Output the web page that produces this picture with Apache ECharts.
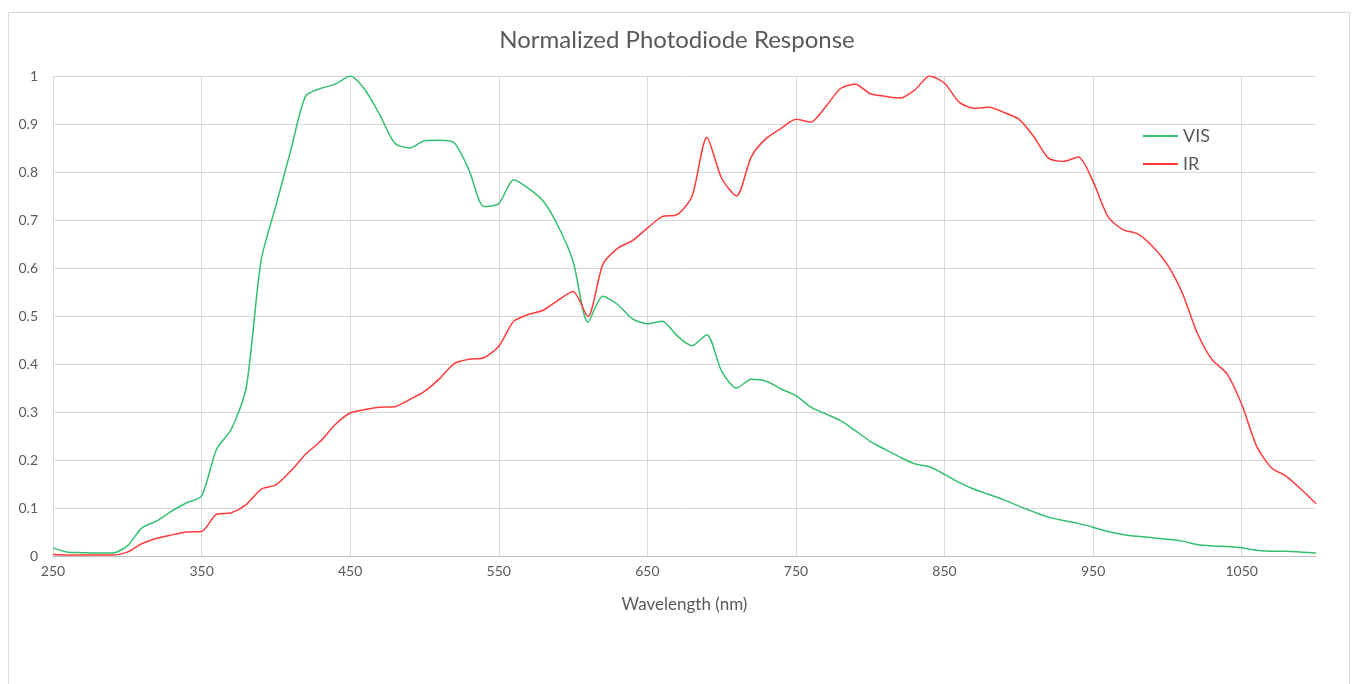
<!DOCTYPE html>
<html>
<head>
<meta charset="utf-8">
<script src="https://cdn.jsdelivr.net/npm/echarts@6/dist/echarts.min.js"></script>
<style>
html,body{margin:0;padding:0;background:#fff;}
#chart{width:1354px;height:684px;}
</style>
</head>
<body>
<div id="chart"></div>
<script>
const wavelengths = [250,260,270,280,290,300,310,320,330,340,350,360,370,380,390,400,410,420,430,440,450,460,470,480,490,500,510,520,530,540,550,560,570,580,590,600,610,620,630,640,650,660,670,680,690,700,710,720,730,740,750,760,770,780,790,800,810,820,830,840,850,860,870,880,890,900,910,920,930,940,950,960,970,980,990,1000,1010,1020,1030,1040,1050,1060,1070,1080,1090,1100];
const visValues = [0.017,0.008,0.007,0.006,0.006,0.021,0.059,0.073,0.094,0.111,0.125,0.222,0.264,0.35,0.615,0.73,0.845,0.958,0.974,0.983,1.0,0.971,0.919,0.86,0.85,0.865,0.866,0.861,0.804,0.728,0.734,0.784,0.766,0.739,0.687,0.614,0.487,0.541,0.524,0.494,0.484,0.489,0.459,0.438,0.461,0.385,0.35,0.368,0.364,0.348,0.334,0.31,0.296,0.282,0.261,0.239,0.222,0.206,0.192,0.186,0.17,0.153,0.139,0.128,0.117,0.104,0.092,0.081,0.074,0.068,0.06,0.051,0.045,0.041,0.038,0.035,0.031,0.024,0.021,0.02,0.017,0.012,0.01,0.01,0.008,0.006];
const irValues = [0.003,0.002,0.002,0.002,0.002,0.008,0.026,0.037,0.044,0.05,0.051,0.087,0.09,0.107,0.139,0.148,0.177,0.212,0.239,0.274,0.298,0.305,0.31,0.311,0.326,0.343,0.369,0.401,0.41,0.413,0.437,0.489,0.503,0.512,0.533,0.551,0.499,0.607,0.641,0.657,0.683,0.707,0.711,0.749,0.872,0.787,0.75,0.832,0.87,0.891,0.91,0.904,0.936,0.974,0.983,0.963,0.958,0.954,0.971,1.0,0.985,0.945,0.933,0.935,0.924,0.91,0.874,0.829,0.822,0.831,0.78,0.707,0.68,0.671,0.645,0.607,0.548,0.465,0.409,0.38,0.316,0.229,0.184,0.166,0.139,0.109];
const seriesNames = ['VIS', 'IR'];
const titleText = 'Normalized Photodiode Response';
const xAxisName = 'Wavelength (nm)';

const pair = (xs, ys) => xs.map((x, i) => [x, ys[i]]);
const FONT = 'Lato, "Open Sans", sans-serif';
const TXT = '#595959';

const chart = echarts.init(document.getElementById('chart'), null, {renderer: 'canvas'});
chart.setOption({
  animation: false,
  backgroundColor: '#ffffff',
  graphic: [{
    type: 'rect', left: 6, top: 10, silent: true,
    shape: {width: 1341, height: 700},
    style: {fill: 'none', stroke: '#d9d9d9', lineWidth: 1}
  }],
  title: {
    text: titleText, left: 'center', top: 23,
    textStyle: {fontFamily: FONT, fontSize: 24, fontWeight: 'normal', color: TXT}
  },
  legend: {
    orient: 'vertical', left: 1138, top: 122,
    icon: 'rect', itemWidth: 35, itemHeight: 2, itemGap: 10,
    textStyle: {fontFamily: FONT, fontSize: 18, lineHeight: 18, color: TXT},
    data: seriesNames
  },
  grid: {left: 53, right: 38, top: 76, bottom: 128, containLabel: false},
  xAxis: {
    type: 'value', min: 250, max: 1100, interval: 100,
    name: xAxisName, nameLocation: 'middle', nameGap: 40,
    nameTextStyle: {fontFamily: FONT, fontSize: 17, color: TXT},
    axisLine: {show: true, lineStyle: {color: '#bfbfbf', width: 1}},
    axisTick: {show: false},
    axisLabel: {fontFamily: FONT, fontSize: 14, color: TXT, margin: 8, showMaxLabel: false,
      formatter: v => String(v)},
    splitLine: {show: true, showMaxLine: false, lineStyle: {color: '#d9d9d9', width: 1}}
  },
  yAxis: {
    type: 'value', min: 0, max: 1, interval: 0.1,
    axisLine: {show: false},
    axisTick: {show: false},
    axisLabel: {fontFamily: FONT, fontSize: 14, color: TXT, margin: 15,
      formatter: v => String(Math.round(v * 10) / 10)},
    splitLine: {show: true, lineStyle: {color: '#d9d9d9', width: 1}}
  },
  series: [
    {
      name: seriesNames[0], type: 'line', data: pair(wavelengths, visValues),
      symbol: 'none', smooth: 0.25,
      lineStyle: {color: '#33bf6e', width: 1.5}, itemStyle: {color: '#33bf6e'}
    },
    {
      name: seriesNames[1], type: 'line', data: pair(wavelengths, irValues),
      symbol: 'none', smooth: 0.25,
      lineStyle: {color: '#ff3b3b', width: 1.5}, itemStyle: {color: '#ff3b3b'}
    }
  ]
});
</script>
</body>
</html>
